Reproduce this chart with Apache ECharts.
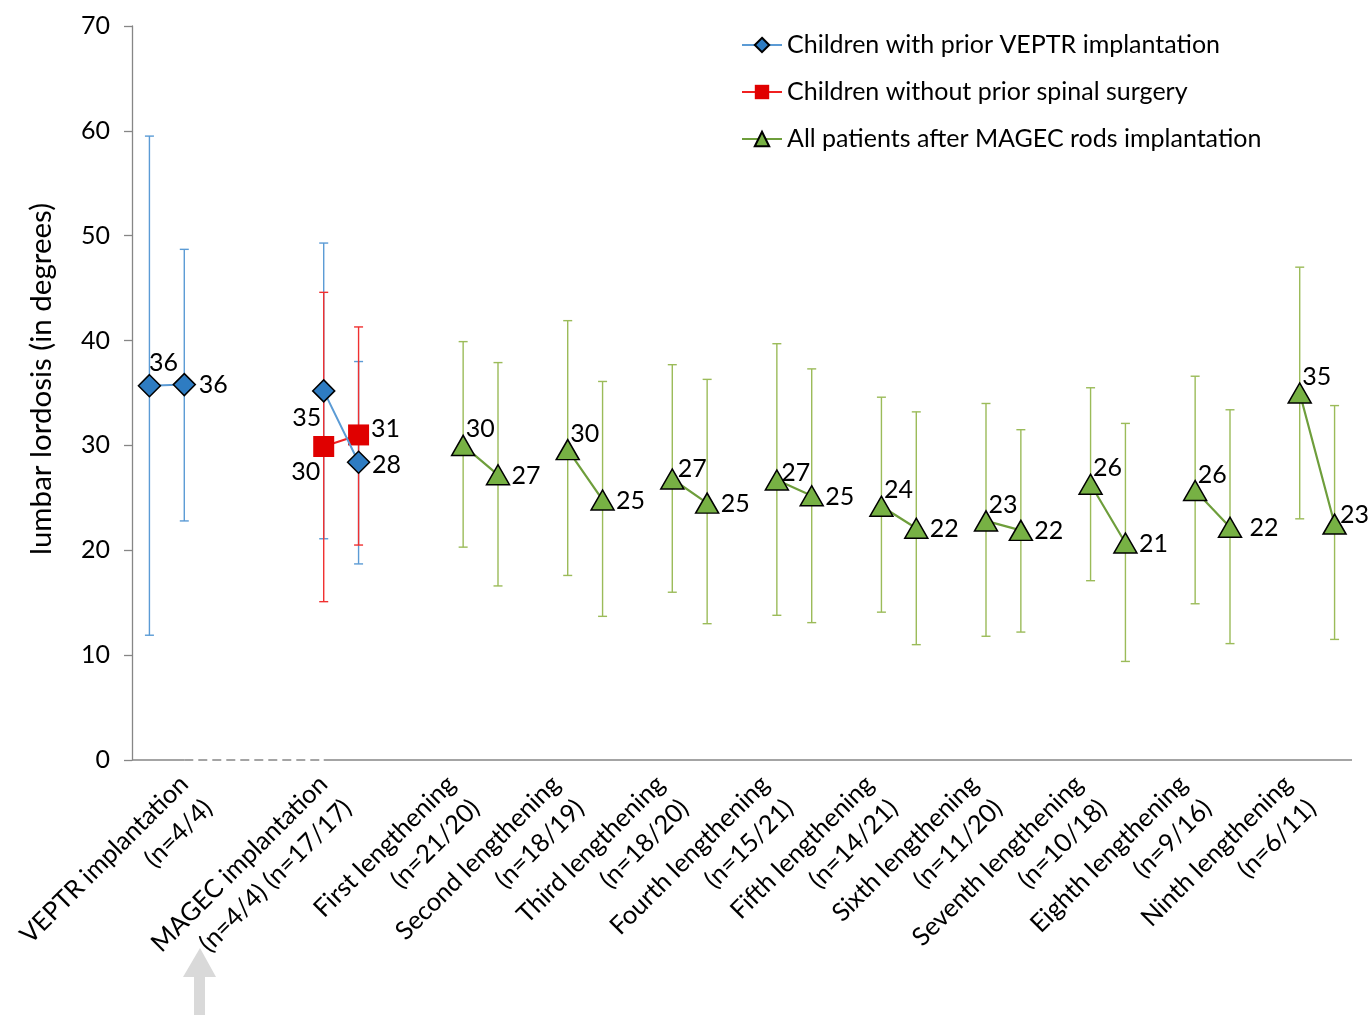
<!DOCTYPE html>
<html><head><meta charset="utf-8">
<script src="https://cdn.jsdelivr.net/npm/echarts@6/dist/echarts.min.js"></script>
<style>html,body{margin:0;padding:0;background:#fff}#c{width:1368px;height:1015px}</style>
</head><body><div id="c"></div>
<script>
// ---- data ----
const categories = [
  '', 'VEPTR implantation\n(n=4/4)', '', '', '',
  'MAGEC implantation\n(n=4/4) (n=17/17)', '', '', '',
  'First lengthening\n(n=21/20)', '', '',
  'Second lengthening\n(n=18/19)', '', '',
  'Third lengthening\n(n=18/20)', '', '',
  'Fourth lengthening\n(n=15/21)', '', '',
  'Fifth lengthening\n(n=14/21)', '', '',
  'Sixth lengthening\n(n=11/20)', '', '',
  'Seventh lengthening\n(n=10/18)', '', '',
  'Eighth lengthening\n(n=9/16)', '', '',
  'Ninth lengthening\n(n=6/11)', ''
];
const yTicks = [0, 10, 20, 30, 40, 50, 60, 70];

const seriesNames = [
  'Children with prior VEPTR implantation',
  'Children without prior spinal surgery',
  'All patients after MAGEC rods implantation'
];

// Children with prior VEPTR implantation
const veptrMean = [35.7, 35.8, null, null, null, 35.2, 28.4, null, null, null, null, null, null, null, null, null, null, null, null, null, null, null, null, null, null, null, null, null, null, null, null, null, null, null, null];
const veptrHigh = [59.5, 48.7, null, null, null, 49.3, 38.0, null, null, null, null, null, null, null, null, null, null, null, null, null, null, null, null, null, null, null, null, null, null, null, null, null, null, null, null];
const veptrLow  = [11.9, 22.8, null, null, null, 21.1, 18.7, null, null, null, null, null, null, null, null, null, null, null, null, null, null, null, null, null, null, null, null, null, null, null, null, null, null, null, null];

// Children without prior spinal surgery
const naiveMean = [null, null, null, null, null, 29.9, 31.0, null, null, null, null, null, null, null, null, null, null, null, null, null, null, null, null, null, null, null, null, null, null, null, null, null, null, null, null];
const naiveHigh = [null, null, null, null, null, 44.6, 41.3, null, null, null, null, null, null, null, null, null, null, null, null, null, null, null, null, null, null, null, null, null, null, null, null, null, null, null, null];
const naiveLow  = [null, null, null, null, null, 15.1, 20.5, null, null, null, null, null, null, null, null, null, null, null, null, null, null, null, null, null, null, null, null, null, null, null, null, null, null, null, null];

// All patients after MAGEC rods implantation
const allMean = [null, null, null, null, null, null, null, null, null, 30.0, 27.2, null, 29.6, 24.8, null, 26.8, 24.5, null, 26.7, 25.2, null, 24.2, 22.1, null, 22.8, 21.9, null, 26.3, 20.7, null, 25.7, 22.2, null, 35.0, 22.5];
const allHigh = [null, null, null, null, null, null, null, null, null, 39.9, 37.9, null, 41.9, 36.1, null, 37.7, 36.3, null, 39.7, 37.3, null, 34.6, 33.2, null, 34.0, 31.5, null, 35.5, 32.1, null, 36.6, 33.4, null, 47.0, 33.8];
const allLow  = [null, null, null, null, null, null, null, null, null, 20.3, 16.6, null, 17.6, 13.7, null, 16.0, 13.0, null, 13.8, 13.1, null, 14.1, 11.0, null, 11.8, 12.2, null, 17.1, 9.4, null, 14.9, 11.1, null, 23.0, 11.5];

// ---- styling helpers (not data) ----
const FONT = 'Lato';
const blueLabelOffsets = {0: [14, -23], 1: [29, 0], 5: [-17, 27], 6: [28, 3]};
const redLabelOffsets = {5: [-18, 25], 6: [27, -6]};
function greenOffset(i) {
  const special = {15: [20, -10], 18: [19, -7], 31: [34, 1], 34: [20, -9]};
  if (special[i]) return special[i];
  const isFirst = allMean[i - 1] == null;
  return isFirst ? [17, -16] : [28, 1];
}

// label axis: 3 sub-slots per category so a label can sit a third of a slot to the right
const SUB = 3;
const nudgeRight = new Set([1, 5]);
const labelAxisData = new Array(categories.length * SUB).fill('');
categories.forEach((c, k) => {
  if (c) labelAxisData[SUB * k + 1 + (nudgeRight.has(k) ? 1 : 0)] = c;
});

function lineData(mean, offsetFn) {
  return mean.map((v, i) => v == null ? '-' : {
    value: v,
    label: {offset: offsetFn(i)}
  });
}
function errData(mean, hi, lo) {
  const out = [];
  mean.forEach((v, i) => { if (v != null) out.push([i, hi[i], lo[i]]); });
  return out;
}
function errorBarRender(color) {
  return function (params, api) {
    const x = api.value(0);
    const top = api.coord([x, api.value(1)]);
    const bot = api.coord([x, api.value(2)]);
    const cap = 4.5;
    const style = {stroke: color, lineWidth: 1.4};
    return {
      type: 'group',
      children: [
        {type: 'line', shape: {x1: top[0], y1: top[1], x2: bot[0], y2: bot[1]}, style},
        {type: 'line', shape: {x1: top[0] - cap, y1: top[1], x2: top[0] + cap, y2: top[1]}, style},
        {type: 'line', shape: {x1: bot[0] - cap, y1: bot[1], x2: bot[0] + cap, y2: bot[1]}, style}
      ]
    };
  };
}

const labelBase = {
  show: true,
  position: 'inside',
  fontFamily: FONT,
  fontSize: 25,
  color: '#000',
  formatter: p => Math.round(p.value)
};

const AXIS_GRAY = '#868686';

const option = {
  animation: false,
  backgroundColor: '#fff',
  textStyle: {fontFamily: FONT},
  grid: {left: 132, right: 16, top: 26, bottom: 255, outerBoundsMode: 'none', containLabel: false},
  legend: {
    data: seriesNames,
    orient: 'vertical',
    left: 741,
    top: 30,
    padding: 0,
    itemWidth: 40,
    itemHeight: 18,
    itemGap: 17,
    textStyle: {fontFamily: FONT, fontSize: 25, color: '#000', lineHeight: 30},
    selectedMode: false
  },
  xAxis: [
    {
      type: 'category',
      data: categories,
      boundaryGap: true,
      axisLine: {show: false},
      axisTick: {show: false},
      splitLine: {show: false},
      axisLabel: {show: false}
    },
    {
      type: 'category',
      data: labelAxisData,
      position: 'bottom',
      offset: 0,
      boundaryGap: true,
      axisLine: {show: false},
      axisTick: {show: false},
      splitLine: {show: false},
      axisLabel: {
        interval: 0,
        rotate: 45,
        align: 'right',
        verticalAlign: 'middle',
        margin: 32,
        fontFamily: FONT,
        fontSize: 25.5,
        lineHeight: 34,
        color: '#000'
      }
    }
  ],
  yAxis: {
    type: 'value',
    min: yTicks[0],
    max: yTicks[yTicks.length - 1],
    interval: 10,
    name: 'lumbar lordosis (in degrees)',
    nameLocation: 'middle',
    nameGap: 76,
    nameTextStyle: {fontFamily: FONT, fontSize: 29.5, color: '#000', padding: [0, 0, 0, 28]},
    axisLine: {show: true, lineStyle: {color: AXIS_GRAY, width: 1.3}},
    axisTick: {show: true, length: 8, lineStyle: {color: AXIS_GRAY, width: 1.3}},
    splitLine: {show: false},
    axisLabel: {fontFamily: FONT, fontSize: 25, color: '#000', margin: 22}
  },
  graphic: [
    {
      type: 'polygon',
      shape: {points: [[200, 948], [216, 977], [205, 977], [205, 1015], [194, 1015], [194, 977], [183, 977]]},
      style: {fill: '#D9D9D9'}
    }
  ],
  series: [
    {
      name: 'axisline',
      type: 'custom',
      silent: true,
      z: 1,
      data: [[0, 0]],
      renderItem: function (params, api) {
        const cs = params.coordSys;
        const a = api.coord([1, 0]);
        const b = api.coord([5, 0]);
        const y = cs.y + cs.height;
        return {
          type: 'group',
          children: [
            {type: 'line', shape: {x1: cs.x, y1: y, x2: a[0], y2: y}, style: {stroke: AXIS_GRAY, lineWidth: 1.5}},
            {type: 'line', shape: {x1: a[0], y1: y, x2: b[0], y2: y}, style: {stroke: AXIS_GRAY, lineWidth: 1.5, lineDash: [9, 5]}},
            {type: 'line', shape: {x1: b[0], y1: y, x2: cs.x + cs.width, y2: y}, style: {stroke: AXIS_GRAY, lineWidth: 1.5}}
          ]
        };
      }
    },
    {
      name: 'veptrErr', type: 'custom', z: 2, silent: true,
      encode: {x: 0, y: [1, 2]},
      data: errData(veptrMean, veptrHigh, veptrLow),
      renderItem: errorBarRender('#5B9BD5')
    },
    {
      name: 'naiveErr', type: 'custom', z: 2, silent: true,
      encode: {x: 0, y: [1, 2]},
      data: errData(naiveMean, naiveHigh, naiveLow),
      renderItem: errorBarRender('#F03030')
    },
    {
      name: 'allErr', type: 'custom', z: 2, silent: true,
      encode: {x: 0, y: [1, 2]},
      data: errData(allMean, allHigh, allLow),
      renderItem: errorBarRender('#9BBB59')
    },
    {
      name: seriesNames[0],
      type: 'line',
      z: 5,
      connectNulls: false,
      symbol: 'diamond',
      symbolSize: 22,
      itemStyle: {color: '#2E7CC2', borderColor: '#000', borderWidth: 1.5},
      lineStyle: {color: '#5B9BD5', width: 2},
      label: labelBase,
      data: lineData(veptrMean, i => blueLabelOffsets[i] || [28, 0])
    },
    {
      name: seriesNames[1],
      type: 'line',
      z: 4,
      connectNulls: false,
      symbol: 'rect',
      symbolSize: 21,
      itemStyle: {color: '#E00000', borderColor: '#E00000', borderWidth: 0},
      lineStyle: {color: '#F02020', width: 2},
      label: labelBase,
      data: lineData(naiveMean, i => redLabelOffsets[i] || [28, 0])
    },
    {
      name: seriesNames[2],
      type: 'line',
      z: 5,
      connectNulls: false,
      symbol: 'triangle',
      symbolSize: [23, 20],
      itemStyle: {color: '#77B144', borderColor: '#000', borderWidth: 1.5},
      lineStyle: {color: '#6E9E3B', width: 2.2},
      label: labelBase,
      data: lineData(allMean, greenOffset)
    }
  ]
};

const chart = echarts.init(document.getElementById('c'), null, {renderer: 'canvas'});
chart.setOption(option);
</script>
</body></html>
